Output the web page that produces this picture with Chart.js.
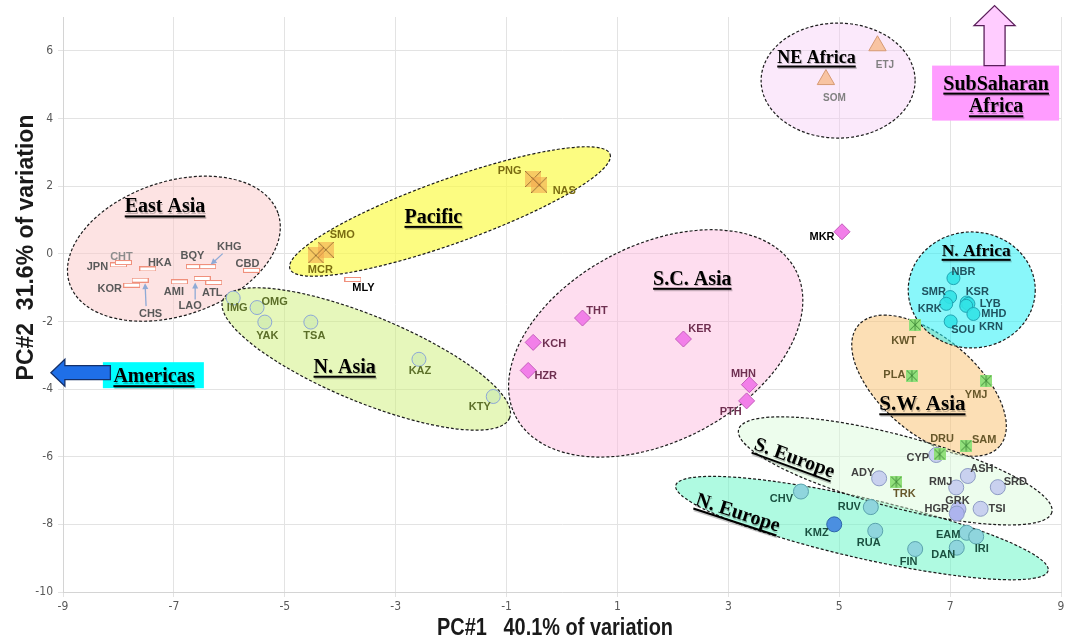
<!DOCTYPE html>
<html>
<head>
<meta charset="utf-8">
<title>PCA of population samples</title>
<script src="https://cdn.jsdelivr.net/npm/chart.js@4.4.1/dist/chart.umd.min.js"></script>
<style>
  html, body { margin: 0; padding: 0; background: #ffffff; }
  canvas { display: block; }
</style>
</head>
<body>
<canvas id="pca" width="1072" height="640"></canvas>
<script>
// ---------- axis ticks ----------
const xTicks = [-9, -7, -5, -3, -1, 1, 3, 5, 7, 9];
const yTicks = [-10, -8, -6, -4, -2, 0, 2, 4, 6];
const xTitle = 'PC#1   40.1% of variation';
const yTitle = 'PC#2  31.6% of variation';

// ---------- population scores (PC1, PC2) ----------
const eastAsiaCodes = ['JPN', 'CHT', 'HKA', 'KOR', 'CHS', 'BQY', 'KHG', 'AMI', 'LAO', 'ATL', 'CBD', 'MLY'];
const eastAsiaPC1 = [-8.00, -7.91, -7.47, -7.76, -7.61, -6.63, -6.39, -6.90, -6.49, -6.28, -5.60, -3.77];
const eastAsiaPC2 = [-0.33, -0.26, -0.45, -0.93, -0.78, -0.38, -0.38, -0.83, -0.73, -0.85, -0.49, -0.76];

const pacificCodes = ['SMO', 'MCR', 'PNG', 'NAS'];
const pacificPC1 = [-4.26, -4.44, -0.52, -0.41];
const pacificPC2 = [0.12, -0.05, 2.21, 2.04];

const northAsiaCodes = ['IMG', 'OMG', 'YAK', 'TSA', 'KAZ', 'KTY'];
const northAsiaPC1 = [-5.93, -5.50, -5.36, -4.53, -2.58, -1.24];
const northAsiaPC2 = [-1.31, -1.59, -2.02, -2.02, -3.12, -4.22];

const scAsiaCodes = ['THT', 'KCH', 'HZR', 'KER', 'MHN', 'PTH', 'MKR'];
const scAsiaPC1 = [0.37, -0.52, -0.61, 2.19, 3.38, 3.33, 5.05];
const scAsiaPC2 = [-1.90, -2.62, -3.45, -2.52, -3.87, -4.35, 0.65];

const neAfricaCodes = ['ETJ', 'SOM'];
const neAfricaPC1 = [5.69, 4.76];
const neAfricaPC2 = [6.15, 5.15];

const nAfricaCodes = ['NBR', 'SMR', 'KRK', 'SOU', 'KSR', 'KRN', 'LYB', 'MHD'];
const nAfricaPC1 = [7.06, 7.00, 6.93, 7.01, 7.30, 7.33, 7.29, 7.42];
const nAfricaPC2 = [-0.72, -1.28, -1.48, -2.00, -1.44, -1.48, -1.54, -1.78];

const swAsiaCodes = ['KWT', 'PLA', 'YMJ', 'SAM', 'DRU', 'TRK'];
const swAsiaPC1 = [6.37, 6.31, 7.65, 7.29, 6.81, 6.03];
const swAsiaPC2 = [-2.10, -3.60, -3.75, -5.67, -5.93, -6.74];

const sEuropeCodes = ['CYP', 'ADY', 'ASH', 'RMJ', 'SRD', 'GRK', 'HGR', 'TSI'];
const sEuropePC1 = [6.75, 5.72, 7.32, 7.11, 7.86, 7.15, 7.12, 7.55];
const sEuropePC2 = [-5.95, -6.64, -6.57, -6.91, -6.90, -7.55, -7.68, -7.54];

const nEuropeCodes = ['CHV', 'RUV', 'KMZ', 'RUA', 'FIN', 'EAM', 'IRI', 'DAN'];
const nEuropePC1 = [4.31, 5.57, 4.91, 5.65, 6.37, 7.30, 7.47, 7.12];
const nEuropePC2 = [-7.03, -7.49, -8.00, -8.19, -8.73, -8.25, -8.36, -8.69];

// ---------- fonts ----------
const FONT_NARROW = '"Liberation Sans Narrow", "Arial Narrow", "DejaVu Sans Condensed", sans-serif';
const FONT_SANS = '"Liberation Sans", Arial, Helvetica, sans-serif';
const FONT_SERIF = '"Liberation Serif", "Times New Roman", serif';

// ---------- label placement (pixel offset of each code from its marker) ----------
const labelOffsets = {
  JPN: [-21, 2], CHT: [-2, -5.5], HKA: [12, -6], KOR: [-22, 3.5], CHS: [10.5, 34], BQY: [-2, -10.5],
  KHG: [21.5, -19.5], AMI: [-5.5, 10.5], LAO: [-12, 28], ATL: [-1.5, 10], CBD: [-4, -6.5], MLY: [10.5, 8.5],
  SMO: [16.5, -14.5], MCR: [4.5, 15], PNG: [-23.5, -8.5], NAS: [25, 6.5],
  IMG: [4, 10], OMG: [17.5, -5.5], YAK: [2.5, 13.5], TSA: [3.5, 13.5], KAZ: [1, 11.5], KTY: [-13.5, 10],
  THT: [14.5, -7.5], KCH: [21, 1.5], HZR: [17.5, 6], KER: [16.5, -10.5], MHN: [-6, -10.5], PTH: [-16, 11], MKR: [-20, 5],
  ETJ: [7.5, 19], SOM: [8.5, 19],
  NBR: [10, -6.5], SMR: [-16.5, -5.5], KRK: [-16.5, 5], KSR: [10.5, -10.5], LYB: [24, -2], MHD: [20.5, 0],
  SOU: [12.5, 8.5], KRN: [22.5, 23.5],
  KWT: [-11.5, 16.5], PLA: [-17.5, -0.5], YMJ: [-10, 14.5], SAM: [18, -5.5], DRU: [2.5, -15.5], TRK: [8, 12.5],
  CYP: [-18.5, 2.5], ADY: [-16.5, -5.5], ASH: [14, -7.5], RMJ: [-15.5, -6], SRD: [17.5, -5.5],
  GRK: [-1, -8.5], HGR: [-20, -4.5], TSI: [16.5, 0],
  CHV: [-19.5, 7.5], RUV: [-21.5, -0.5], KMZ: [-17.5, 9], RUA: [-6.5, 12], FIN: [-6.5, 12.5],
  EAM: [-18.5, 2.5], IRI: [5.5, 12.5], DAN: [-13.5, 7.5]
};

// small pointer arrows from a label to its marker (offsets from the marker)
const leaderArrows = {
  CHS: { from: [6, 26], to: [5, 3] },
  LAO: { from: [-7, 21], to: [-7, 4] },
  KHG: { from: [15, -13], to: [3, -2] }
};

// ---------- group outlines (centre in data units, radii in px, rotation in deg) ----------
const groupEllipses = [
  { cx: -7.00, cy: 0.15, rx: 110, ry: 67, rot: -18.6, fill: 'rgba(251,200,200,0.5)' },
  { cx: -3.53, cy: -3.11, rx: 155, ry: 43, rot: 22.4, fill: 'rgba(205,240,120,0.5)' },
  { cx: -2.02, cy: 1.25, rx: 170, ry: 32, rot: -19.7, fill: 'rgba(250,250,70,0.68)' },
  { cx: 1.69, cy: -2.65, rx: 158, ry: 98, rot: -27.7, fill: 'rgba(252,180,220,0.45)' },
  { cx: 4.98, cy: 5.12, rx: 77, ry: 57.5, rot: 0, fill: 'rgba(246,200,246,0.4)' },
  { cx: 6.62, cy: -3.90, rx: 93, ry: 48, rot: 40.5, fill: 'rgba(249,196,120,0.55)' },
  { cx: 7.39, cy: -1.07, rx: 63.5, ry: 58, rot: 0, fill: 'rgba(40,240,245,0.55)' },
  { cx: 5.41, cy: -8.11, rx: 191, ry: 30, rot: 12.9, fill: 'rgba(110,245,200,0.55)' },
  { cx: 6.01, cy: -6.42, rx: 162, ry: 36, rot: 14.8, fill: 'rgba(215,250,215,0.45)' }
];

// group names (glyph centre in data units)
const groupNames = [
  { text: 'East Asia', x: -7.16, y: 1.43, size: 20 },
  { text: 'Pacific', x: -2.32, y: 1.12, size: 20 },
  { text: 'N. Asia', x: -3.92, y: -3.31, size: 20 },
  { text: 'S.C. Asia', x: 2.35, y: -0.71, size: 20 },
  { text: 'NE Africa', x: 4.59, y: 5.84, size: 18 },
  { text: 'N. Africa', x: 7.47, y: 0.12, size: 17.5 },
  { text: 'S.W. Asia', x: 6.50, y: -4.41, size: 21 },
  { text: 'S. Europe', x: 4.20, y: -6.00, size: 20, rot: 20 },
  { text: 'N. Europe', x: 3.18, y: -7.62, size: 20, rot: 18 },
  { text: 'Americas', x: -7.36, y: -3.59, size: 20 },
  { text: 'SubSaharan', x: 7.83, y: 5.06, size: 20 },
  { text: 'Africa', x: 7.83, y: 4.39, size: 20 }
];

// off-chart pointers: box centre in data units, geometry in px
const americasBox = { x: -7.37, y: -3.59, w: 101, h: 26 };
const subSaharanBox = { x: 7.82, y: 4.75, w: 127, h: 55 };

// ---------- marker images ----------
function makeMark(w, h, paint) {
  const c = document.createElement('canvas');
  c.width = w; c.height = h;
  paint(c.getContext('2d'), w, h);
  return c;
}
const barMark = makeMark(17, 5, (g) => {
  g.fillStyle = '#ffffff'; g.fillRect(0, 0, 17, 5);
  g.strokeStyle = '#f0907c'; g.lineWidth = 1; g.strokeRect(0.5, 0.5, 16, 4);
});
const crossBoxMark = makeMark(16, 16, (g, w, h) => {
  g.fillStyle = 'rgba(244,168,80,0.6)'; g.fillRect(0, 0, w, h);
  g.strokeStyle = 'rgba(140,100,45,0.85)'; g.lineWidth = 1;
  g.beginPath(); g.moveTo(0, 0); g.lineTo(w, h); g.moveTo(w, 0); g.lineTo(0, h); g.stroke();
});
const starBoxMark = makeMark(12, 12, (g, w, h) => {
  g.fillStyle = '#92e07c'; g.fillRect(0, 0, w, h);
  g.strokeStyle = '#3f8a38'; g.lineWidth = 1;
  g.beginPath();
  g.moveTo(1, 1); g.lineTo(w - 1, h - 1); g.moveTo(w - 1, 1); g.lineTo(1, h - 1);
  g.moveTo(w / 2, 0.5); g.lineTo(w / 2, h - 0.5);
  g.stroke();
});

function toPoints(pc1, pc2) { return pc1.map((v, i) => ({ x: v, y: pc2[i] })); }

const datasets = [
  { label: 'East Asia', data: toPoints(eastAsiaPC1, eastAsiaPC2), codes: eastAsiaCodes,
    pointStyle: barMark, pointRadius: 8, labelColor: '#595959', labelColors: { CHT: '#8c8c8c', MLY: '#000000' } },
  { label: 'Pacific', data: toPoints(pacificPC1, pacificPC2), codes: pacificCodes,
    pointStyle: crossBoxMark, pointRadius: 8, labelColor: '#7a6c12' },
  { label: 'N. Asia', data: toPoints(northAsiaPC1, northAsiaPC2), codes: northAsiaCodes,
    pointStyle: 'circle', pointRadius: 7, backgroundColor: '#d5eeb3', borderColor: '#8da7d8', borderWidth: 1,
    labelColor: '#5b6e28' },
  { label: 'S.C. Asia', data: toPoints(scAsiaPC1, scAsiaPC2), codes: scAsiaCodes,
    pointStyle: 'rectRot', pointRadius: 8, backgroundColor: '#f27fe9', borderColor: '#c45dbb', borderWidth: 1,
    labelColor: '#6e2f50', labelColors: { MKR: '#000000' } },
  { label: 'NE Africa', data: toPoints(neAfricaPC1, neAfricaPC2), codes: neAfricaCodes,
    pointStyle: 'triangle', pointRadius: 10, backgroundColor: '#f8c4a2', borderColor: '#d69a74', borderWidth: 1,
    labelColor: '#808080', labelSize: 10 },
  { label: 'S.W. Asia', data: toPoints(swAsiaPC1, swAsiaPC2), codes: swAsiaCodes,
    pointStyle: starBoxMark, pointRadius: 7, labelColor: '#66572a' },
  { label: 'N. Africa', data: toPoints(nAfricaPC1, nAfricaPC2), codes: nAfricaCodes,
    pointStyle: 'circle', pointRadius: 6.5, backgroundColor: 'rgba(50,226,230,0.9)', borderColor: '#1fa5b4', borderWidth: 1,
    labelColor: '#1f5360' },
  { label: 'S. Europe', data: toPoints(sEuropePC1, sEuropePC2), codes: sEuropeCodes,
    pointStyle: 'circle', pointRadius: 7.5, borderColor: '#8d9bc4', borderWidth: 1,
    backgroundColor: (c) => ({ GRK: '#bcc0f2', HGR: '#adb4ee' })[sEuropeCodes[c.dataIndex]] || '#c9d1ef',
    labelColor: '#404040' },
  { label: 'N. Europe', data: toPoints(nEuropePC1, nEuropePC2), codes: nEuropeCodes,
    pointStyle: 'circle', pointRadius: 7.5, borderWidth: 1,
    backgroundColor: (c) => nEuropeCodes[c.dataIndex] === 'KMZ' ? '#4b8fe0' : '#8fd5dd',
    borderColor: (c) => nEuropeCodes[c.dataIndex] === 'KMZ' ? '#2f66aa' : '#5aa3ad',
    labelColor: '#1a5040' }
];

// ---------- drawing helpers ----------
function drawGroupName(g, n, xs, ys) {
  const px = xs.getPixelForValue(n.x), py = ys.getPixelForValue(n.y);
  g.save();
  g.translate(px, py);
  if (n.rot) g.rotate(n.rot * Math.PI / 180);
  g.font = `bold ${n.size}px ${FONT_SERIF}`;
  g.textAlign = 'center';
  g.textBaseline = 'alphabetic';
  const w = g.measureText(n.text).width;
  const base = n.size * 0.35;
  g.fillStyle = 'rgba(0,0,0,0.22)';
  g.fillText(n.text, 1, base + 1.5);
  g.fillRect(-w / 2 + 1, base + 4.5, w, 2);
  g.fillStyle = '#000000';
  g.fillText(n.text, 0, base);
  g.fillRect(-w / 2, base + 3, w, 2);
  g.restore();
}

function polygon(g, pts, fill, stroke, lw) {
  g.beginPath();
  g.moveTo(pts[0][0], pts[0][1]);
  for (let i = 1; i < pts.length; i++) g.lineTo(pts[i][0], pts[i][1]);
  g.closePath();
  g.fillStyle = fill; g.fill();
  g.lineWidth = lw; g.strokeStyle = stroke; g.stroke();
}

function drawPointers(g, xs, ys) {
  g.save();
  // Americas: cyan box with a blue arrow pointing left
  let cx = xs.getPixelForValue(americasBox.x), cy = ys.getPixelForValue(americasBox.y);
  g.fillStyle = '#00ffff';
  g.fillRect(cx - americasBox.w / 2, cy - americasBox.h / 2, americasBox.w, americasBox.h);
  polygon(g, [
    [cx - 102.5, cy - 2.5], [cx - 88.5, cy - 16], [cx - 88.5, cy - 9.5], [cx - 43, cy - 9.5],
    [cx - 43, cy + 4.5], [cx - 88.5, cy + 4.5], [cx - 88.5, cy + 11]
  ], '#1f6fe8', '#14306a', 1.3);
  // Sub-Saharan Africa: magenta box with an upward arrow
  cx = xs.getPixelForValue(subSaharanBox.x); cy = ys.getPixelForValue(subSaharanBox.y);
  g.fillStyle = '#ff9cff';
  g.fillRect(cx - subSaharanBox.w / 2, cy - subSaharanBox.h / 2, subSaharanBox.w, subSaharanBox.h);
  polygon(g, [
    [cx - 1, cy - 87.5], [cx + 19.5, cy - 67.5], [cx + 9.5, cy - 67.5], [cx + 9.5, cy - 27.5],
    [cx - 11.5, cy - 27.5], [cx - 11.5, cy - 67.5], [cx - 21.5, cy - 67.5]
  ], '#ffccff', '#5a1f5a', 1.3);
  g.restore();
}

function drawLeader(g, x0, y0, x1, y1) {
  const ang = Math.atan2(y1 - y0, x1 - x0);
  g.save();
  g.strokeStyle = '#8eaad6'; g.fillStyle = '#8eaad6'; g.lineWidth = 1.3;
  g.beginPath(); g.moveTo(x0, y0); g.lineTo(x1 - 4 * Math.cos(ang), y1 - 4 * Math.sin(ang)); g.stroke();
  g.beginPath();
  g.moveTo(x1, y1);
  g.lineTo(x1 - 6 * Math.cos(ang) + 3 * Math.sin(ang), y1 - 6 * Math.sin(ang) - 3 * Math.cos(ang));
  g.lineTo(x1 - 6 * Math.cos(ang) - 3 * Math.sin(ang), y1 - 6 * Math.sin(ang) + 3 * Math.cos(ang));
  g.closePath(); g.fill();
  g.restore();
}

// ---------- plugins ----------
const groupOutlinePlugin = {
  id: 'groupOutlines',
  beforeDatasetsDraw(chart) {
    const g = chart.ctx, xs = chart.scales.x, ys = chart.scales.y;
    groupEllipses.forEach((e) => {
      g.save();
      g.beginPath();
      g.ellipse(xs.getPixelForValue(e.cx), ys.getPixelForValue(e.cy), e.rx, e.ry, e.rot * Math.PI / 180, 0, Math.PI * 2);
      g.fillStyle = e.fill; g.fill();
      g.setLineDash([3, 2]); g.lineWidth = 1.2; g.strokeStyle = '#1c1c1c'; g.stroke();
      g.restore();
    });
  },
  afterDatasetsDraw(chart) {
    const g = chart.ctx, xs = chart.scales.x, ys = chart.scales.y;
    drawPointers(g, xs, ys);
    groupNames.forEach((n) => drawGroupName(g, n, xs, ys));

    chart.data.datasets.forEach((ds, di) => {
      const meta = chart.getDatasetMeta(di);
      g.save();
      g.font = `bold ${ds.labelSize || 11}px ${FONT_SANS}`;
      g.textAlign = 'center';
      g.textBaseline = 'middle';
      ds.codes.forEach((code, i) => {
        const el = meta.data[i];
        const off = labelOffsets[code] || [0, -12];
        const lead = leaderArrows[code];
        if (lead) drawLeader(g, el.x + lead.from[0], el.y + lead.from[1], el.x + lead.to[0], el.y + lead.to[1]);
        g.fillStyle = (ds.labelColors && ds.labelColors[code]) || ds.labelColor;
        g.fillText(code, el.x + off[0], el.y + off[1]);
      });
      g.restore();
    });
  },
  afterDraw(chart) {
    const g = chart.ctx;
    g.save();
    g.fillStyle = '#1a1a1a';
    g.textAlign = 'center';
    g.textBaseline = 'middle';
    // horizontal title in a condensed bold face
    g.save();
    g.font = `bold 24px ${FONT_SANS}`;
    const w = g.measureText(xTitle).width;
    g.translate(555, 628);
    g.scale(Math.min(1, 236 / w), 1);
    g.fillText(xTitle, 0, 0);
    g.restore();
    // vertical title
    g.translate(27, 247.5);
    g.rotate(-Math.PI / 2);
    g.font = `bold 23px ${FONT_SANS}`;
    g.fillText(yTitle, 0, 0);
    g.restore();
  }
};

const whiteBackground = {
  id: 'whiteBackground',
  beforeDraw(chart) {
    const g = chart.ctx;
    g.save(); g.fillStyle = '#ffffff'; g.fillRect(0, 0, chart.width, chart.height); g.restore();
  }
};

new Chart(document.getElementById('pca'), {
  type: 'scatter',
  data: { datasets },
  options: {
    responsive: false,
    animation: false,
    devicePixelRatio: 1,
    events: [],
    layout: { padding: { left: 0, right: 11, top: 17, bottom: 0 } },
    plugins: { legend: { display: false }, tooltip: { enabled: false } },
    scales: {
      x: {
        type: 'linear', min: -9, max: 9,
        afterBuildTicks: (s) => { s.ticks = xTicks.map((v) => ({ value: v })); },
        afterFit: (s) => { s.height = 48; },
        grid: { color: '#e3e3e3', lineWidth: 1, tickLength: 5 },
        border: { color: '#d4d4d4' },
        ticks: { color: '#595959', font: { family: FONT_NARROW, size: 12 }, padding: 3, maxRotation: 0, autoSkip: false }
      },
      y: {
        type: 'linear', min: -10, max: 7,
        afterBuildTicks: (s) => { s.ticks = yTicks.map((v) => ({ value: v })); },
        afterFit: (s) => { s.width = 63; },
        grid: { color: '#e3e3e3', lineWidth: 1, tickLength: 5 },
        border: { color: '#d4d4d4' },
        ticks: { color: '#595959', font: { family: FONT_NARROW, size: 12 }, padding: 5, autoSkip: false }
      }
    }
  },
  plugins: [whiteBackground, groupOutlinePlugin]
});
</script>
</body>
</html>
